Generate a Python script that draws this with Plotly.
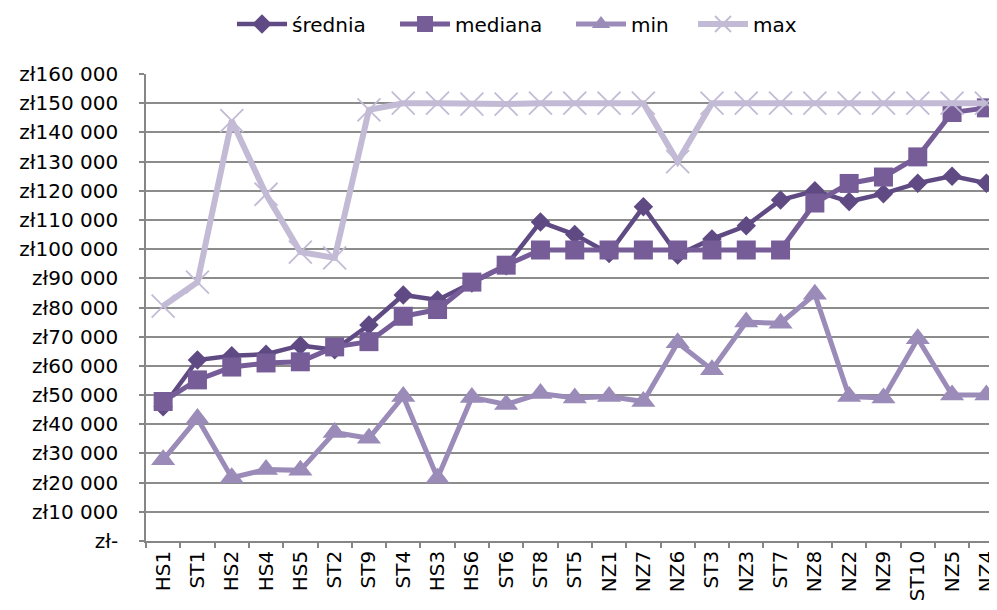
import plotly.graph_objects as go

categories = ["HS1", "ST1", "HS2", "HS4", "HS5", "ST2", "ST9", "ST4", "HS3", "HS6", "ST6", "ST8", "ST5",
              "NZ1", "NZ7", "NZ6", "ST3", "NZ3", "ST7", "NZ8", "NZ2", "NZ9", "ST10", "NZ5", "NZ4"]

srednia = [46000, 62000, 63500, 64000, 67000, 65500, 74000, 84300, 82600, 88400, 94300, 109300, 105000,
           98500, 114500, 98000, 103500, 108000, 116800, 120000, 116300, 119000, 122600, 125000, 122600]
mediana = [47800, 55200, 59600, 61000, 61400, 66500, 68300, 77000, 79300, 88700, 94500, 99700, 99700,
           99700, 99700, 99700, 99700, 99700, 99700, 115800, 122500, 124700, 131600, 146800, 148400]
minimum = [27800, 42000, 21700, 24500, 24200, 37200, 35200, 49500, 21600, 49200, 46800, 50500, 49000,
           49500, 47800, 67900, 58700, 75000, 74600, 84500, 49500, 49000, 69300, 50000, 50000]
maximum = [80500, 88700, 144000, 118800, 99000, 97000, 147700, 150000, 150000, 149700, 149700, 150000, 150000,
           150000, 150000, 130000, 150000, 150000, 150000, 150000, 150000, 150000, 150000, 150000, 150000]

y_tick_values = [0, 10000, 20000, 30000, 40000, 50000, 60000, 70000, 80000, 90000, 100000,
                 110000, 120000, 130000, 140000, 150000, 160000]
y_tick_labels = ["zł-", "zł10 000", "zł20 000", "zł30 000", "zł40 000", "zł50 000", "zł60 000",
                 "zł70 000", "zł80 000", "zł90 000", "zł100 000", "zł110 000", "zł120 000",
                 "zł130 000", "zł140 000", "zł150 000", "zł160 000"]

FONT = "DejaVu Sans, Liberation Sans, Arial, sans-serif"
PAGE_OFFSET = 8  # default body margin of the html page
W, H = 997 - PAGE_OFFSET, 610 - PAGE_OFFSET
ITEM_W = 50

fig = go.Figure()
fig.add_trace(go.Scatter(x=categories, y=srednia, name="średnia", mode="lines+markers", legend="legend",
                         line=dict(color="#5f4a83", width=4.5),
                         marker=dict(symbol="diamond", size=15, color="#5f4a83")))
fig.add_trace(go.Scatter(x=categories, y=mediana, name="mediana", mode="lines+markers", legend="legend2",
                         line=dict(color="#765d98", width=5),
                         marker=dict(symbol="square", size=19, color="#765d98")))
fig.add_trace(go.Scatter(x=categories, y=minimum, name="min", mode="lines+markers", legend="legend3",
                         line=dict(color="#9b8bb9", width=5),
                         marker=dict(symbol="triangle-up", size=21, color="#9b8bb9")))
fig.add_trace(go.Scatter(x=categories, y=maximum, name="max", mode="lines+markers", legend="legend4",
                         line=dict(color="#c3bbd5", width=6),
                         marker=dict(symbol="x-thin-open", size=23, color="#c3bbd5",
                                     line=dict(color="#c3bbd5", width=1.8))))


def legend_at(text_left_page_px):
    return dict(orientation="h", xref="container", yref="container",
                x=(text_left_page_px - PAGE_OFFSET - (ITEM_W + 10)) / W, xanchor="left",
                y=1 - (24 - PAGE_OFFSET) / H, yanchor="middle",
                itemwidth=ITEM_W,
                font=dict(family=FONT, size=20, color="black"),
                bgcolor="rgba(0,0,0,0)", borderwidth=0)


fig.update_layout(
    width=W, height=H,
    margin=dict(l=146 - PAGE_OFFSET, r=0, t=74 - PAGE_OFFSET, b=69, autoexpand=False),
    paper_bgcolor="white", plot_bgcolor="white",
    font=dict(family=FONT, size=20, color="black"),
    showlegend=True,
    legend=legend_at(292),
    legend2=legend_at(455),
    legend3=legend_at(631),
    legend4=legend_at(753),
)
fig.update_xaxes(
    type="category", range=[-0.5, 24.31], automargin=False,
    showline=True, linecolor="#868686", linewidth=1.5,
    ticks="outside", tickson="boundaries", ticklen=5, tickcolor="#868686", tickwidth=1.5,
    tickangle=-90, showgrid=False, zeroline=False,
    tickfont=dict(family=FONT, size=20, color="black"),
)
fig.update_yaxes(
    range=[0, 160000], tickvals=y_tick_values, ticktext=y_tick_labels, automargin=False,
    showline=True, linecolor="#868686", linewidth=1.5,
    ticks="outside", ticklen=5, tickcolor="#868686", tickwidth=1.5,
    showgrid=True, gridcolor="#8c8c8c", gridwidth=1.5, zeroline=False,
    ticklabelstandoff=17,
    tickfont=dict(family=FONT, size=20, color="black"),
)

fig.write_html("out.html")
